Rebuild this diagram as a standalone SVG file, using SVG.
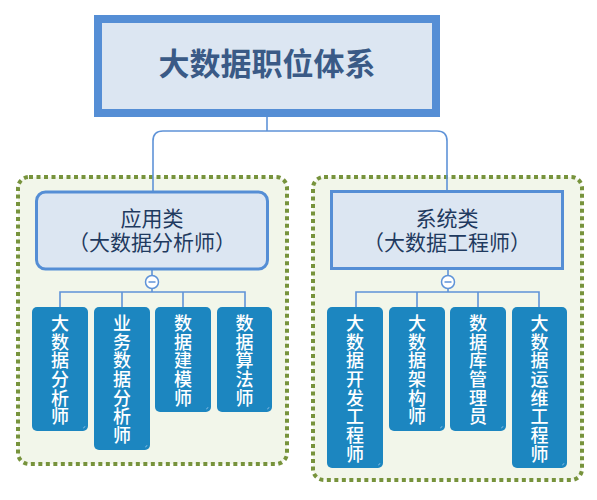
<svg xmlns="http://www.w3.org/2000/svg" width="597" height="500" viewBox="0 0 597 500">
<defs>
<style>
.grp{fill:#f2f6ea;stroke:#77933c;stroke-width:4;stroke-dasharray:4 3.5;}
.cat{fill:#dce6f2;stroke:#558ed5;stroke-width:3;}
.leaf{fill:#1c86c0;}
.conn{fill:none;stroke:#5f93d8;stroke-width:1.6;}
.title{font-family:"Noto Sans CJK SC","Noto Sans",sans-serif;font-size:31px;font-weight:bold;fill:#3a5a86;text-anchor:middle;}
.ct{font-family:"Noto Sans CJK SC","Noto Sans",sans-serif;font-size:21px;fill:#1f3a5f;text-anchor:middle;}
.lt{font-family:"Noto Sans CJK SC","Noto Sans",sans-serif;font-size:18px;font-weight:500;fill:#ffffff;writing-mode:vertical-rl;letter-spacing:0.7px;}
.btn{fill:#ffffff;stroke:#5f93d8;stroke-width:1.5;}
.gloss{fill:none;stroke:#6fb0dc;stroke-width:1;}
</style>
</defs>
<rect width="597" height="500" fill="#ffffff"/>
<g id="group-left"><rect class="grp" x="18" y="177" width="269" height="287" rx="11"/></g>
<g id="group-right"><rect class="grp" x="313" y="177" width="269" height="303" rx="11"/></g>
<g id="connectors">
<path class="conn" d="M267,117 V131"/>
<path class="conn" d="M153,191 V141 Q153,131 163,131 H437 Q447,131 447,141 V190"/>
<path class="conn" d="M152,270 V275.5 M152,288.5 V292"/>
<path class="conn" d="M60,307 V292 H245 V307 M122,292 V307 M183,292 V307"/>
<path class="conn" d="M448,270 V275.5 M448,288.5 V292"/>
<path class="conn" d="M356,307 V292 H539 V307 M417,292 V307 M478,292 V307"/>
</g>
<g id="root">
<rect x="98" y="19" width="338" height="94" fill="#dce6f2" stroke="#558ed5" stroke-width="8"/>
<text class="title" x="267" y="75">大数据职位体系</text>
</g>
<g id="cat-app">
<rect class="cat" x="36.5" y="192" width="231" height="77" rx="9"/>
<text class="ct" x="152" y="226">应用类<tspan x="152" dy="24">（大数据分析师）</tspan></text>
</g>
<g id="cat-sys">
<rect class="cat" x="331.5" y="191.5" width="231" height="77"/>
<text class="ct" x="447" y="226">系统类<tspan x="447" dy="24">（大数据工程师）</tspan></text>
</g>
<g id="btn-app"><circle class="btn" cx="152" cy="282" r="6.5"/><path d="M148.5,282 H155.5" stroke="#5f93d8" stroke-width="1.5"/></g>
<g id="btn-sys"><circle class="btn" cx="448" cy="282" r="6.5"/><path d="M444.5,282 H451.5" stroke="#5f93d8" stroke-width="1.5"/></g>
<g id="leaf-1">
<rect class="leaf" x="32" y="307" width="56" height="124" rx="5"/>
<path class="gloss" d="M85,426 Q85,428 83,428"/>
<text class="lt" x="60" y="314">大数据分析师</text>
</g>
<g id="leaf-2">
<rect class="leaf" x="94" y="307" width="56" height="143" rx="5"/>
<path class="gloss" d="M147,445 Q147,447 145,447"/>
<text class="lt" x="122" y="314">业务数据分析师</text>
</g>
<g id="leaf-3">
<rect class="leaf" x="155" y="307" width="56" height="105" rx="5"/>
<path class="gloss" d="M208,407 Q208,409 206,409"/>
<text class="lt" x="183" y="314">数据建模师</text>
</g>
<g id="leaf-4">
<rect class="leaf" x="217" y="307" width="55" height="105" rx="5"/>
<path class="gloss" d="M269,407 Q269,409 267,409"/>
<text class="lt" x="244.5" y="314">数据算法师</text>
</g>
<g id="leaf-5">
<rect class="leaf" x="327" y="307" width="56" height="161" rx="5"/>
<path class="gloss" d="M380,463 Q380,465 378,465"/>
<text class="lt" x="355" y="314">大数据开发工程师</text>
</g>
<g id="leaf-6">
<rect class="leaf" x="389" y="307" width="56" height="124" rx="5"/>
<path class="gloss" d="M442,426 Q442,428 440,428"/>
<text class="lt" x="417" y="314">大数据架构师</text>
</g>
<g id="leaf-7">
<rect class="leaf" x="450" y="307" width="56" height="124" rx="5"/>
<path class="gloss" d="M503,426 Q503,428 501,428"/>
<text class="lt" x="478" y="314">数据库管理员</text>
</g>
<g id="leaf-8">
<rect class="leaf" x="512" y="307" width="55" height="161" rx="5"/>
<path class="gloss" d="M564,463 Q564,465 562,465"/>
<text class="lt" x="539.5" y="314">大数据运维工程师</text>
</g>
</svg>
